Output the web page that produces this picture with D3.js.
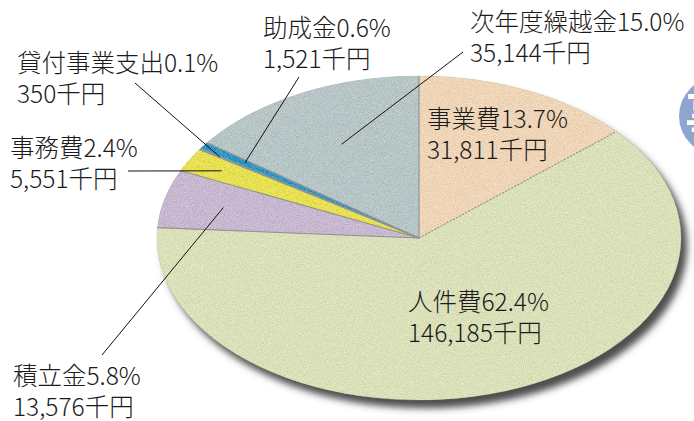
<!DOCTYPE html>
<html>
<head>
<meta charset="utf-8">
<script src="https://cdn.jsdelivr.net/npm/d3@7"></script>
<style>
  html, body { margin: 0; padding: 0; background: #fff; }
  svg { display: block; }
  text { font-family: "Noto Sans CJK JP", "Noto Sans", sans-serif; fill: #1a1a1a; }
</style>
</head>
<body>
<div id="chart"></div>
<script>
// data (clockwise from 12 o'clock)
const categories = ["事業費", "人件費", "積立金", "事務費", "貸付事業支出", "助成金", "次年度繰越金"];
const amounts = [31811, 146185, 13576, 5551, 350, 1521, 35144];
const percentLabels = ["13.7%", "62.4%", "5.8%", "2.4%", "0.1%", "0.6%", "15.0%"];
const amountUnit = "千円";

const sliceColors = ["#eed4b6", "#d9e0b8", "#c6b7cf", "#e6df52", "#6cb8dc", "#2b95c6", "#b6c4c5"];

// label layout: text anchor and leader line (r = fraction of radius inside slice)
const labelLayout = [
    { x: 427, y: 128, lead: null },
    { x: 408, y: 311, lead: null },
    { x: 13, y: 385, lead: { r: 0.77, x: 102, y: 355 } },
    { x: 10, y: 157, lead: { r: 0.86, x: 128, y: 171 } },
    { x: 17, y: 72, lead: { r: 0.91, x: 135, y: 83 } },
    { x: 263, y: 37, lead: { r: 0.81, x: 299, y: 77 } },
    { x: 470, y: 31, lead: { r: 0.65, x: 463, y: 52 } }
];

const width = 694, height = 421;
const cx = 419, cy = 238, rx = 262, ry = 162;

const svg = d3.select("#chart").append("svg")
    .attr("width", width)
    .attr("height", height);

const defs = svg.append("defs");

// grainy paper texture
const grain = defs.append("filter").attr("id", "grain");
grain.append("feTurbulence")
    .attr("type", "fractalNoise")
    .attr("baseFrequency", 1.1)
    .attr("numOctaves", 2)
    .attr("seed", 4)
    .attr("result", "n");
grain.append("feColorMatrix")
    .attr("in", "n")
    .attr("type", "matrix")
    .attr("values", "0.33 0.33 0.33 0 0  0.33 0.33 0.33 0 0  0.33 0.33 0.33 0 0  0 0 0 0 1")
    .attr("result", "g");
grain.append("feComposite")
    .attr("in", "SourceGraphic")
    .attr("in2", "g")
    .attr("operator", "arithmetic")
    .attr("k1", 0).attr("k2", 1).attr("k3", 0.6).attr("k4", -0.29)
    .attr("result", "mix");
grain.append("feComposite")
    .attr("in", "mix")
    .attr("in2", "SourceGraphic")
    .attr("operator", "in");

// drop shadow bottom right
const shadow = defs.append("filter").attr("id", "shadow")
    .attr("x", "-10%").attr("y", "-10%").attr("width", "125%").attr("height", "130%");
shadow.append("feGaussianBlur").attr("in", "SourceAlpha").attr("stdDeviation", 3.5).attr("result", "b");
shadow.append("feOffset").attr("in", "b").attr("dx", 6).attr("dy", 8).attr("result", "o");
shadow.append("feFlood").attr("flood-color", "#3a3a3a").attr("flood-opacity", 0.9);
shadow.append("feComposite").attr("in2", "o").attr("operator", "in").attr("result", "s");
const merge = shadow.append("feMerge");
merge.append("feMergeNode").attr("in", "s");
merge.append("feMergeNode").attr("in", "SourceGraphic");

const pie = d3.pie().sort(null).value(d => d)(amounts);
const arc = d3.arc().innerRadius(0).outerRadius(ry);

const outer = svg.append("g").attr("filter", "url(#shadow)");
const textured = outer.append("g").attr("filter", "url(#grain)");
const slices = textured.append("g")
    .attr("transform", `translate(${cx},${cy}) scale(${rx / ry},1)`);

slices.selectAll("path")
    .data(pie)
    .join("path")
    .attr("d", arc)
    .attr("fill", (d, i) => sliceColors[i])
    .attr("stroke", (d, i) => sliceColors[i])
    .attr("stroke-width", 0.4);

// point on the ellipse for angle a and radius fraction f
const pt = (a, f) => [cx + rx * f * Math.sin(a), cy - ry * f * Math.cos(a)];

// slice separators
svg.append("g")
    .selectAll("line")
    .data(pie)
    .join("line")
    .attr("x1", cx).attr("y1", cy)
    .attr("x2", d => pt(d.startAngle, 1)[0])
    .attr("y2", d => pt(d.startAngle, 1)[1])
    .attr("stroke", "#8f9391")
    .attr("stroke-width", 1.1)
    .attr("stroke-dasharray", (d, i) => i === 1 ? "2,1.5" : null);

// leader lines
svg.append("g")
    .selectAll("line")
    .data(pie.filter((d, i) => labelLayout[i].lead))
    .join("line")
    .each(function (d) {
        const L = labelLayout[d.index].lead;
        const p = pt((d.startAngle + d.endAngle) / 2, L.r);
        d3.select(this)
            .attr("x1", L.x).attr("y1", L.y)
            .attr("x2", p[0]).attr("y2", p[1]);
    })
    .attr("stroke", "#111")
    .attr("stroke-width", 1);

// labels
const labels = svg.append("g")
    .selectAll("text")
    .data(pie)
    .join("text")
    .attr("font-size", 24.5)
    .attr("font-weight", 300)
    .attr("x", d => labelLayout[d.index].x)
    .attr("y", d => labelLayout[d.index].y);
labels.append("tspan")
    .text(d => categories[d.index] + percentLabels[d.index]);
labels.append("tspan")
    .attr("x", d => labelLayout[d.index].x)
    .attr("dy", 31)
    .text(d => d3.format(",")(amounts[d.index]) + amountUnit);

// partial badge at the right edge
svg.append("circle")
    .attr("cx", 718).attr("cy", 116).attr("r", 39)
    .attr("fill", "#8fa5d0");
svg.append("text")
    .attr("x", 711).attr("y", 135)
    .attr("text-anchor", "middle")
    .attr("font-size", 52)
    .attr("font-weight", "bold")
    .style("fill", "#fff")
    .text("事");
</script>
</body>
</html>
